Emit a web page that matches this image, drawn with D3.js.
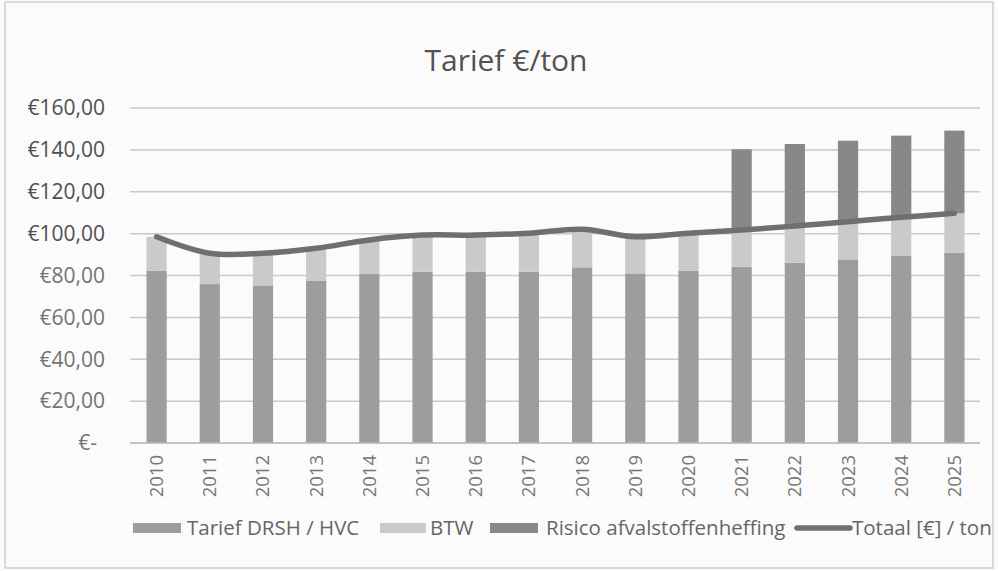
<!DOCTYPE html>
<html>
<head>
<meta charset="utf-8">
<script src="https://cdn.jsdelivr.net/npm/d3@7"></script>
<style>
    body { margin: 0; background: #fbfbfb; }
    svg { display: block; font-family: "Open Sans", "Liberation Sans", sans-serif; }
    .grid line { stroke: #c9c9c9; stroke-width: 1.5; }
</style>
</head>
<body>
<svg width="998" height="571"></svg>
<script>
// Data
const years = ["2010", "2011", "2012", "2013", "2014", "2015", "2016", "2017",
               "2018", "2019", "2020", "2021", "2022", "2023", "2024", "2025"];
const tarief = [82.3, 75.9, 75.3, 77.4, 80.7, 81.8, 81.8, 81.8,
                83.9, 81.0, 82.3, 84.2, 86.1, 87.7, 89.3, 90.9];
const btw = [16.2, 14.7, 15.3, 15.6, 16.3, 17.5, 17.5, 18.4,
             18.2, 17.5, 17.9, 17.5, 17.5, 18.0, 18.5, 18.8];
const risico = [0, 0, 0, 0, 0, 0, 0, 0,
                0, 0, 0, 38.6, 39.2, 38.7, 39.0, 39.5];
const totaal = [98.5, 90.6, 90.6, 93.0, 97.0, 99.3, 99.3, 100.2,
                102.1, 98.5, 100.2, 101.7, 103.6, 105.7, 107.8, 109.7];
const yTicks = [0, 20, 40, 60, 80, 100, 120, 140, 160];
const seriesNames = ["Tarief DRSH / HVC", "BTW", "Risico afvalstoffenheffing", "Totaal [€] / ton"];
const colors = ["#9d9d9d", "#cacaca", "#888888", "#6f6f6f"];

const svg = d3.select("svg");

// chart frame
svg.append("rect")
    .attr("x", 5).attr("y", 2).attr("width", 988).attr("height", 566)
    .attr("fill", "none").attr("stroke", "#cfcfcf").attr("stroke-width", 1.5);

const x = d3.scaleBand().domain(years).range([130, 981]).paddingInner(0.62).paddingOuter(0.31);
const y = d3.scaleLinear().domain([0, 160]).range([443, 108]);

// gridlines
svg.append("g").attr("class", "grid")
    .selectAll("line")
    .data(yTicks)
    .enter().append("line")
    .attr("x1", 130).attr("x2", 980)
    .attr("y1", d => y(d)).attr("y2", d => y(d));

// y axis labels
const fmt = d => d === 0 ? "€-" : "€" + d3.format(".2f")(d).replace(".", ",");
svg.append("g")
    .selectAll("text")
    .data(yTicks)
    .enter().append("text")
    .attr("x", d => d === 0 ? 97 : 105)
    .attr("y", d => y(d))
    .attr("dy", "0.35em")
    .attr("text-anchor", "end")
    .attr("font-size", 21)
    .attr("fill", d => d >= 100 ? "#4f4f4f" : "#737373")
    .text(fmt);

// stacked bars
const rows = years.map((yr, i) => ({ year: yr, tarief: tarief[i], btw: btw[i], risico: risico[i] }));
const stack = d3.stack().keys(["tarief", "btw", "risico"]);
const layers = stack(rows);

svg.append("g")
    .selectAll("g")
    .data(layers)
    .enter().append("g")
    .attr("fill", (d, i) => colors[i])
    .selectAll("rect")
    .data(d => d)
    .enter().append("rect")
    .attr("x", d => x(d.data.year))
    .attr("width", x.bandwidth())
    .attr("y", d => y(d[1]))
    .attr("height", d => y(d[0]) - y(d[1]));

// total line
const line = d3.line()
    .x((d, i) => x(years[i]) + x.bandwidth() / 2)
    .y(d => y(d))
    .curve(d3.curveCatmullRom.alpha(0.5));

svg.append("path")
    .datum(totaal)
    .attr("d", line)
    .attr("fill", "none")
    .attr("stroke", colors[3])
    .attr("stroke-width", 5.5)
    .attr("stroke-linecap", "round");

// x axis baseline
svg.append("line")
    .attr("x1", 130).attr("x2", 980)
    .attr("y1", y(0)).attr("y2", y(0))
    .attr("stroke", "#bdbdbd").attr("stroke-width", 1.5);

// x labels, rotated
svg.append("g")
    .selectAll("text")
    .data(years)
    .enter().append("text")
    .attr("transform", d => `translate(${x(d) + x.bandwidth() / 2 + 6.5}, 455) rotate(-90)`)
    .attr("text-anchor", "end")
    .attr("font-size", 18.5)
    .attr("fill", "#777")
    .text(d => d);

// title
svg.append("text")
    .attr("x", 506).attr("y", 71)
    .attr("text-anchor", "middle")
    .attr("font-size", 30)
    .attr("fill", "#525252")
    .text("Tarief €/ton");

// legend
const legendItems = [
    { name: seriesNames[0], sx: 133, tx: 187 },
    { name: seriesNames[1], sx: 380, tx: 430 },
    { name: seriesNames[2], sx: 490, tx: 546 },
    { name: seriesNames[3], sx: 797, tx: 852 }
];
const legend = svg.append("g");
legendItems.forEach((it, i) => {
    if (i < 3) {
        legend.append("rect")
            .attr("x", it.sx).attr("y", 523)
            .attr("width", i === 1 ? 46 : 48).attr("height", 10)
            .attr("fill", colors[i]);
    } else {
        legend.append("line")
            .attr("x1", it.sx).attr("x2", it.sx + 53)
            .attr("y1", 528).attr("y2", 528)
            .attr("stroke", colors[3]).attr("stroke-width", 5.5)
            .attr("stroke-linecap", "round");
    }
    legend.append("text")
        .attr("x", it.tx).attr("y", 528)
        .attr("dy", "0.35em")
        .attr("font-size", 20.5)
        .attr("fill", "#666")
        .text(it.name);
});
</script>
</body>
</html>
